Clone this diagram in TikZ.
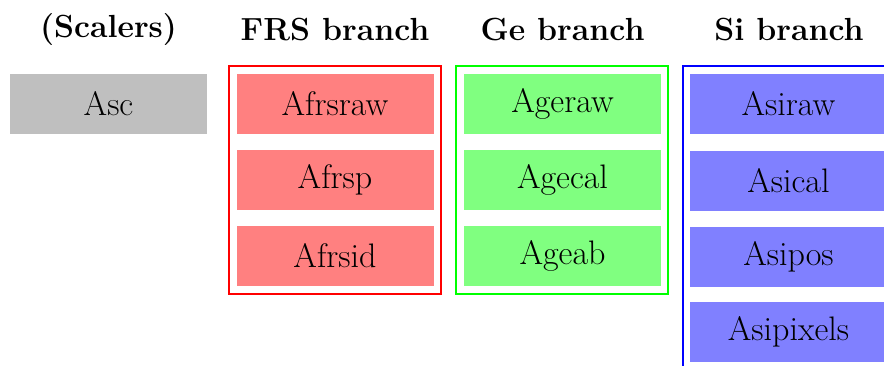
\documentclass[tikz,border=0pt]{standalone}
\begin{document}
\begin{tikzpicture}[x=0.5pt,y=-0.5pt,
  hdr/.style={font=\fontsize{16}{19}\selectfont\bfseries, inner sep=0pt},
  cell/.style={minimum width=98.5pt, minimum height=30pt, inner sep=0pt, draw=none,
    font=\fontsize{17}{20}\selectfont},
  frame/.style={line width=0.9pt}]
\useasboundingbox (0,0) rectangle (884,365);
\clip (0,0) rectangle (884,365);
% headers
\node[hdr] (hsc) at (108.5,29.5) {(Scalers)};
\node[hdr] (hfrs) at (335,29.5) {FRS branch};
\node[hdr] (hge) at (562.5,29.5) {Ge branch};
\node[hdr] (hsi) at (789,29.5) {Si branch};
% scalers
\node[cell, fill=gray!50] (asc) at (108.5,104) {Asc};
% FRS
\node[cell, fill=red!50] (afrsraw) at (335,104) {Afrsraw};
\node[cell, fill=red!50] (afrsp) at (335,180) {Afrsp};
\node[cell, fill=red!50] (afrsid) at (335,256) {Afrsid};
\draw[frame, red] (229,66) rectangle (441,294);
% Ge
\node[cell, fill=green!50] (ageraw) at (562.5,104) {Ageraw};
\node[cell, fill=green!50] (agecal) at (562.5,180) {Agecal};
\node[cell, fill=green!50] (ageab) at (562.5,256) {Ageab};
\draw[frame, green] (456,66) rectangle (668,294);
% Si
\node[cell, fill=blue!50] (asiraw) at (788.5,104) {Asiraw};
\node[cell, fill=blue!50] (asical) at (788.5,180.5) {Asical};
\node[cell, fill=blue!50] (asipos) at (788.5,256.5) {Asipos};
\node[cell, fill=blue!50] (asipix) at (788.5,332) {Asipixels};
\draw[frame, blue] (683,66) rectangle (895,370);
\end{tikzpicture}
\end{document}
